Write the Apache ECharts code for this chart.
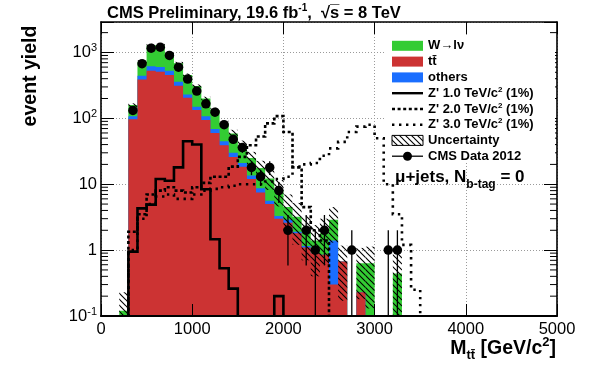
<!DOCTYPE html>
<html><head><meta charset="utf-8">
<script src="https://cdn.jsdelivr.net/npm/echarts@6/dist/echarts.min.js"></script>
<style>html,body{margin:0;padding:0;background:#fff}#c{width:589px;height:366px}</style>
</head><body><div id="c"></div>
<script>
// ---------------- data (bins of 100 GeV, low edges) ----------------
const binLow = [200,300,400,500,600,700,800,900,1000,1100,1200,1300,1400,1500,1600,1700,1800,1900,2000,2100,2200,2300,2400,2500,2600,2700,2800,2900,3000,3100,3200,3300,3400];
const binWidth = 100;
const ttbar  = [0,97,390,527,510,454,312,205,134,94,60,39,26,18.5,12,7.5,5,3,2.6,1.8,1.1,0.9,0.85,0.3,0.67,0,0.23,0,0,0,0,0,0];
const others = [0,11,53,93,90,73,47,26,16,14,9,6,4,2.5,1.6,1.2,0.6,0.3,0.3,0.1,0.05,0,0,1.1,0,0,0,0,0,0,0,0,0];
const wjets  = [0.12,51,281,670,690,441,325,223,159,92,65,39,29,18,11.4,9,6.6,4.8,1.6,1.3,0.85,0.5,0.95,1.5,0,0,0.4,0.63,0,0,0.44,0,0];
const uncert = [0.11,10,36,64,64,50,36,25,18,13,11,8,8,7,6,5,4,3.5,2.5,2.0,1.3,1.0,1.2,1.6,0.5,0,0.45,0.5,0,0,0.5,0,0];
const cmsData = [0,132,676,1160,1200,900,598,394,259,166,124,80,48,36,18,13,18,8,2,0,2,1,2,0,0,1,0,0,0,1,1,0,0];
const zp1 = [0,0.95,4.3,4.9,12,11.3,18,45,40,8.4,1.46,0.53,0.26,0,0,0,0,0.2,0,0,0,0,0,0,0,0,0,0,0,0,0,0,0];
const zp2 = [0,1.9,3.5,7,8,9,8,7.5,9,10.5,13,13,18.5,26,39,53,84,108,62,18,4.5,2.0,1.4,0,0,0,0,0,0,0,0,0,0];
const zp3 = [0,1.0,3,5,6.5,7,6,6,7,8,8.5,9,9.5,10,10,10,11,12,13,18.5,20,21,27,35,44,62,75,80,50,10,3.5,1.2,0.25];
const xTickValues = [0,1000,2000,3000,4000,5000];
const yDecades = [0.1,1,10,100,1000];
const yMinorMult = [2,3,4,5,6,7,8,9];

// ---------------- style ----------------
const FONT = "'Liberation Sans', Arial, Helvetica, sans-serif";
const FLOOR = 1e-3;
const YMAX = 2900;
const C_TT = '#cc3333', C_OTH = '#1a6eff', C_W = '#33cc33';

const binHigh = binLow.map(v => v + binWidth);
const cumRed  = ttbar.slice();
const cumBlue = ttbar.map((v, i) => v + others[i]);
const cumTot  = cumBlue.map((v, i) => v + wjets[i]);

function hatchCanvas() {
  const s = 6, c = document.createElement('canvas');
  c.width = s; c.height = s;
  const g = c.getContext('2d');
  g.strokeStyle = '#000'; g.lineWidth = 1.1;
  g.beginPath();
  g.moveTo(0, 0); g.lineTo(s, s);
  g.moveTo(-s, 0); g.lineTo(0, s);
  g.moveTo(s, -s); g.lineTo(2 * s, s);
  g.moveTo(0, -s); g.lineTo(s, 0);
  g.moveTo(0, s); g.lineTo(s, 2 * s);
  g.stroke();
  return c;
}
const HATCH = hatchCanvas();

function stepPoints(api, n) {
  const pts = [api.coord([api.value(0, 0), FLOOR])];
  for (let j = 0; j < n; j++) {
    const v = Math.max(api.value(2, j), FLOOR);
    pts.push(api.coord([api.value(0, j), v]));
    pts.push(api.coord([api.value(1, j), v]));
  }
  pts.push(api.coord([api.value(1, n - 1), FLOOR]));
  return pts;
}

function layerSeries(cum, color, z) {
  return {
    type: 'custom', z: z, clip: true, silent: true,
    encode: {x: [0, 1], y: 2},
    data: binLow.map((lo, i) => [lo, binHigh[i], Math.max(cum[i], FLOOR)]),
    renderItem: function (params, api) {
      if (params.dataIndexInside !== 0) return null;
      return {type: 'polygon', shape: {points: stepPoints(api, params.dataInsideLength)},
              style: {fill: color, stroke: null}};
    }
  };
}

function signalSeries(vals, dash, width) {
  return {
    type: 'custom', z: 6, clip: true, silent: true,
    encode: {x: [0, 1], y: 2},
    data: binLow.map((lo, i) => [lo, binHigh[i], Math.max(vals[i], FLOOR)]),
    renderItem: function (params, api) {
      if (params.dataIndexInside !== 0) return null;
      return {type: 'polyline', shape: {points: stepPoints(api, params.dataInsideLength)},
              style: {fill: null, stroke: '#000', lineWidth: width, lineDash: dash}};
    }
  };
}

const hatchData = [];
binLow.forEach((lo, i) => {
  if (uncert[i] > 0) hatchData.push([lo, binHigh[i], Math.max(cumTot[i] - uncert[i], FLOOR), cumTot[i] + uncert[i]]);
});
const pointData = [], errData = [];
binLow.forEach((lo, i) => {
  if (cmsData[i] > 0) {
    const c = lo + binWidth / 2, e = Math.sqrt(cmsData[i]);
    pointData.push([c, cmsData[i]]);
    errData.push([c, Math.max(cmsData[i] - e, FLOOR), cmsData[i] + e]);
  }
});
const minorTicks = [];
yDecades.forEach(d => yMinorMult.forEach(m => { if (d * m <= YMAX) minorTicks.push([d * m]); }));

function yLabel(v) {
  const l = Math.log10(v), e = Math.round(l);
  if (Math.abs(l - e) > 1e-6) return '';
  if (e === 0) return '1';
  if (e === 1) return '10';
  return '10{sup|' + e + '}';
}

const chart = echarts.init(document.getElementById('c'), null, {renderer: 'canvas'});
const axLine = {show: true, onZero: false, lineStyle: {color: '#000', width: 1.6}};
const grid = {lineStyle: {color: '#9a9a9a', width: 1, type: [1, 2]}};

const legendRows = [45.8, 61.6, 77.4, 93.2, 109.0, 124.7, 140.4, 156.2];
const LX = 392, LW = 31, TX = 428;
const lfont = 'bold 13px ' + FONT;
function ltext(y, txt) {
  return {type: 'text', x: TX, y: y, z: 30,
          style: {text: txt, font: lfont, fill: '#000', verticalAlign: 'middle', align: 'left',
                  rich: {sup: {font: 'bold 8px ' + FONT, verticalAlign: 'top', padding: [0, 0, 7, 0]}}}};
}

const option = {
  animation: false,
  backgroundColor: '#fff',
  grid: {left: 101, right: 32, top: 22, bottom: 50},
  xAxis: [
    {type: 'value', min: 0, max: 5000, interval: 1000, position: 'bottom', z: 0,
     axisLine: {show: false}, axisTick: {show: false},
     axisLabel: {color: '#000', fontFamily: FONT, fontSize: 16.5, margin: 5, formatter: v => String(v)},
     splitLine: Object.assign({show: true}, grid)},
    {type: 'value', min: 0, max: 5000, interval: 1000, position: 'bottom', z: 20,
     axisLine: {show: true, onZero: false, lineStyle: {color: '#000', width: 2.2}},
     axisTick: {show: true, inside: true, length: 12, lineStyle: {color: '#000', width: 1}},
     axisLabel: {show: false}, splitLine: {show: false}},
    {type: 'value', min: 0, max: 5000, interval: 1000, position: 'top', z: 20,
     axisLine: axLine,
     axisTick: {show: true, inside: true, length: 12, lineStyle: {color: '#000', width: 1}},
     axisLabel: {show: false}, splitLine: {show: false}}
  ],
  yAxis: [
    {type: 'log', logBase: 10, min: 0.1, max: YMAX, position: 'left', z: 0,
     axisLine: {show: false}, axisTick: {show: false},
     axisLabel: {formatter: yLabel, color: '#000', fontFamily: FONT, fontSize: 16.5, margin: 4,
                 rich: {sup: {fontFamily: FONT, fontSize: 11, verticalAlign: 'top', padding: [0, 0, 9, 0]}}},
     splitLine: Object.assign({show: true}, grid)},
    {type: 'log', logBase: 10, min: 0.1, max: YMAX, position: 'left', z: 20,
     axisLine: axLine,
     axisTick: {show: true, inside: true, length: 13, lineStyle: {color: '#000', width: 1}},
     axisLabel: {show: false}, splitLine: {show: false}},
    {type: 'log', logBase: 10, min: 0.1, max: YMAX, position: 'right', z: 20,
     axisLine: axLine,
     axisTick: {show: true, inside: true, length: 13, lineStyle: {color: '#000', width: 1}},
     axisLabel: {show: false}, splitLine: {show: false}}
  ],
  series: [
    layerSeries(cumTot, C_W, 2),
    layerSeries(cumBlue, C_OTH, 3),
    layerSeries(cumRed, C_TT, 4),
    {type: 'custom', z: 5, clip: true, silent: true, encode: {x: [0, 1], y: [2, 3]},
     data: hatchData,
     renderItem: function (params, api) {
       const a = api.coord([api.value(0), api.value(3)]);
       const b = api.coord([api.value(1), api.value(2)]);
       return {type: 'rect', shape: {x: a[0], y: a[1], width: b[0] - a[0], height: b[1] - a[1]},
               style: {fill: {image: HATCH, repeat: 'repeat'}, stroke: null}};
     }},
    signalSeries(zp1, null, 2.6),
    signalSeries(zp2, [3, 2.6], 2.6),
    signalSeries(zp3, [2.4, 4.6], 2.6),
    {type: 'custom', z: 8, clip: true, silent: true, encode: {x: 0, y: [1, 2]},
     data: errData,
     renderItem: function (params, api) {
       const a = api.coord([api.value(0), api.value(2)]);
       const b = api.coord([api.value(0), api.value(1)]);
       return {type: 'line', shape: {x1: a[0], y1: a[1], x2: b[0], y2: b[1]},
               style: {stroke: '#000', lineWidth: 1.3}};
     }},
    {type: 'scatter', z: 9, silent: true, symbol: 'circle', symbolSize: 9.5,
     itemStyle: {color: '#000', opacity: 1}, data: pointData},
    {type: 'custom', z: 21, clip: false, silent: true, encode: {y: 0},
     data: minorTicks,
     renderItem: function (params, api) {
       const l = api.coord([0, api.value(0)]);
       const r = api.coord([5000, api.value(0)]);
       return {type: 'group', children: [
         {type: 'line', shape: {x1: l[0], y1: l[1], x2: l[0] + 7, y2: l[1]}, style: {stroke: '#000', lineWidth: 1}},
         {type: 'line', shape: {x1: r[0], y1: r[1], x2: r[0] - 7, y2: r[1]}, style: {stroke: '#000', lineWidth: 1}}
       ]};
     }}
  ],
  graphic: [
    {type: 'text', x: 107, y: 13, z: 30,
     style: {text: 'CMS Preliminary, 19.6 fb{sup|-1},  \u221As\u0305 = 8 TeV', font: 'bold 16.5px ' + FONT, fill: '#000',
             verticalAlign: 'middle', rich: {sup: {font: 'bold 10px ' + FONT, verticalAlign: 'top', padding: [0, 0, 9, 0]}}}},
    {type: 'text', x: 31, y: 76, rotation: Math.PI / 2, z: 30,
     style: {text: 'event yield', font: 'bold 19.5px ' + FONT, fill: '#000', align: 'center', verticalAlign: 'middle'}},
    {type: 'text', x: 556, y: 349, z: 30,
     style: {text: 'M{sub|tt\u0304} [GeV/c{sup|2}]', font: 'bold 19.5px ' + FONT, fill: '#000', align: 'right', verticalAlign: 'middle',
             rich: {sub: {font: 'bold 13px ' + FONT, padding: [13, 0, 0, 0]}, sup: {font: 'bold 13px ' + FONT, verticalAlign: 'top', padding: [0, 0, 11, 0]}}}},
    // legend
    {type: 'rect', z: 25, shape: {x: 386, y: 35, width: 169, height: 128}, style: {fill: '#fff'}},
    {type: 'rect', z: 30, shape: {x: LX, y: legendRows[0] - 5, width: LW, height: 10}, style: {fill: C_W}},
    {type: 'rect', z: 30, shape: {x: LX, y: legendRows[1] - 5, width: LW, height: 10}, style: {fill: C_TT}},
    {type: 'rect', z: 30, shape: {x: LX, y: legendRows[2] - 5, width: LW, height: 10}, style: {fill: C_OTH}},
    {type: 'line', z: 30, shape: {x1: LX, y1: legendRows[3], x2: LX + LW, y2: legendRows[3]}, style: {stroke: '#000', lineWidth: 2.4}},
    {type: 'line', z: 30, shape: {x1: LX, y1: legendRows[4], x2: LX + LW, y2: legendRows[4]}, style: {stroke: '#000', lineWidth: 2.4, lineDash: [3, 2.6]}},
    {type: 'line', z: 30, shape: {x1: LX, y1: legendRows[5], x2: LX + LW, y2: legendRows[5]}, style: {stroke: '#000', lineWidth: 2.4, lineDash: [2.4, 4.6]}},
    {type: 'rect', z: 30, shape: {x: LX, y: legendRows[6] - 5, width: LW, height: 10}, style: {fill: {image: HATCH, repeat: 'repeat'}, stroke: '#000', lineWidth: 1}},
    {type: 'line', z: 30, shape: {x1: LX, y1: legendRows[7], x2: LX + LW, y2: legendRows[7]}, style: {stroke: '#000', lineWidth: 1.3}},
    {type: 'circle', z: 31, shape: {cx: LX + LW / 2, cy: legendRows[7], r: 4.5}, style: {fill: '#000'}},
    ltext(legendRows[0], 'W\u2192l\u03BD'),
    ltext(legendRows[1], 'tt\u0304'),
    ltext(legendRows[2], 'others'),
    ltext(legendRows[3], "Z' 1.0 TeV/c{sup|2} (1%)"),
    ltext(legendRows[4], "Z' 2.0 TeV/c{sup|2} (1%)"),
    ltext(legendRows[5], "Z' 3.0 TeV/c{sup|2} (1%)"),
    ltext(legendRows[6], 'Uncertainty'),
    ltext(legendRows[7], 'CMS Data 2012'),
    {type: 'text', x: 395, y: 177, z: 30,
     style: {text: '\u03BC+jets, N{sub|b-tag} = 0', font: 'bold 17px ' + FONT, fill: '#000', verticalAlign: 'middle',
             rich: {sub: {font: 'bold 12px ' + FONT, padding: [16, 0, 0, 0]}}}}
  ]
};
chart.setOption(option);
</script></body></html>
